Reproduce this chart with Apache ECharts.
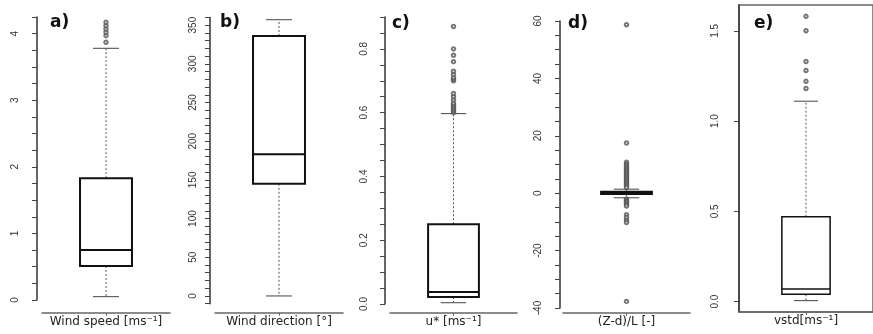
<!DOCTYPE html>
<html><head><meta charset="utf-8">
<script src="https://cdn.jsdelivr.net/npm/echarts@6/dist/echarts.min.js"></script>
<style>html,body{margin:0;padding:0;background:#fff}#c{width:873px;height:334px}</style>
</head><body><div id="c"></div><script>
// ---- data ----
const panelLetters = ['a)', 'b)', 'c)', 'd)', 'e)'];
const xLabels = ['Wind speed [ms⁻¹]', 'Wind direction [°]', 'u* [ms⁻¹]', '(Z-d)/L [-]', 'vstd[ms⁻¹]'];
// box stats: [lower whisker, Q1, median, Q3, upper whisker]
const windSpeedBox = [0.05, 0.51, 0.75, 1.83, 3.78];
const windSpeedOut = [3.87, 3.97, 4.02, 4.07, 4.12, 4.17];
const windDirBox = [0, 145, 183, 336, 357];
const windDirOut = [];
const ustarBox = [0.004, 0.022, 0.038, 0.25, 0.597];
const ustarOut = [0.600, 0.605, 0.610, 0.615, 0.620, 0.625, 0.630, 0.640, 0.650, 0.660, 0.700, 0.705, 0.710, 0.720, 0.730, 0.760, 0.780, 0.800, 0.870];
const zlBox = [-1.6, -0.3, 0.1, 0.5, 1.4];
const zlOut = [58.7, 17.5, 10.8, 10.2, 9.6, 9.0, 8.5, 8.0, 7.5, 7.0, 6.5, 6.0, 5.5, 5.0, 4.5, 4.0, 3.5, 3.0, 2.5, 2.0, -2.0, -2.5, -3.0, -3.5, -4.0, -4.5, -7.5, -8.5, -9.5, -10.2, -37.7];
const vstdBox = [0.005, 0.04, 0.07, 0.47, 1.11];
const vstdOut = [1.18, 1.22, 1.28, 1.33, 1.50, 1.58];
// tick labels
const ticksA = [0, 1, 2, 3, 4];
const ticksB = [0, 50, 100, 150, 200, 250, 300, 350];
const ticksC = [0.0, 0.2, 0.4, 0.6, 0.8];
const ticksD = [-40, -20, 0, 20, 40, 60];
const ticksE = [0.0, 0.5, 1.0, 1.5];
// minor tick marks
const minorA = [0, 0.25, 0.5, 0.75, 1, 1.25, 1.5, 1.75, 2, 2.25, 2.5, 2.75, 3, 3.25, 3.5, 3.75, 4, 4.25];
const minorB = [-10, 0, 10, 20, 30, 40, 50, 60, 70, 80, 90, 100, 110, 120, 130, 140, 150, 160, 170, 180, 190, 200, 210, 220, 230, 240, 250, 260, 270, 280, 290, 300, 310, 320, 330, 340, 350, 360];
const minorC = [0, 0.05, 0.1, 0.15, 0.2, 0.25, 0.3, 0.35, 0.4, 0.45, 0.5, 0.55, 0.6, 0.65, 0.7, 0.75, 0.8, 0.85, 0.9];
const minorD = [-40, -35, -30, -25, -20, -15, -10, -5, 0, 5, 10, 15, 20, 25, 30, 35, 40, 45, 50, 55, 60];
const minorE = [0.0, 0.5, 1.0, 1.5];

// ---- layout / style ----
const panels = [
  {box: windSpeedBox, out: windSpeedOut, labels: ticksA, ticks: minorA, fmt: v => String(v), min: 0, max: 4.25,
   grid: {left: 42, right: 703, top: 17, bottom: 34}, xOff: 13, yOff: 5, ratio: 0.406, lw: 2, lm: 17, letter: [50, 14]},
  {box: windDirBox, out: windDirOut, labels: ticksB, ticks: minorB, fmt: v => String(v), min: -10, max: 360,
   grid: {left: 215, right: 530, top: 17.4, bottom: 30.3}, xOff: 9, yOff: 5, ratio: 0.406, lw: 2, lm: 12, letter: [220, 14]},
  {box: ustarBox, out: ustarOut, labels: ticksC, ticks: minorC, fmt: v => v.toFixed(1), min: 0, max: 0.9,
   grid: {left: 390, right: 356, top: 17, bottom: 30}, xOff: 9, yOff: 5, ratio: 0.40, lw: 2, lm: 16, letter: [392, 15]},
  {box: zlBox, out: zlOut, labels: ticksD, ticks: minorD, fmt: v => String(v), min: -40, max: 60,
   grid: {left: 563, right: 183, top: 21, bottom: 26}, xOff: 5, yOff: 3, ratio: 0.40, lw: 2, lm: 17, letter: [568, 15]},
  {box: vstdBox, out: vstdOut, labels: ticksE, ticks: minorE, fmt: v => v.toFixed(1), min: -0.058, max: 1.643,
   grid: {left: 739, right: -4, top: 5, bottom: 22, show: true, borderColor: '#666', borderWidth: 1.5},
   xOff: 0, yOff: 0, ratio: 0.36, lw: 1.5, lm: 19, letter: [754, 15]}
];

function makeRender(ratio, lw) {
  return function (params, api) {
    const x = api.value(0);
    const lo = api.coord([x, api.value(1)]);
    const q1 = api.coord([x, api.value(2)]);
    const md = api.coord([x, api.value(3)]);
    const q3 = api.coord([x, api.value(4)]);
    const hi = api.coord([x, api.value(5)]);
    const bw = api.size([1, 0])[0] * ratio;
    const cx = md[0];
    const cw = bw / 2;
    const solid = {stroke: '#111', lineWidth: lw, fill: null};
    const dash = {stroke: '#555', lineWidth: 1, lineDash: [2, 2]};
    return {
      type: 'group',
      children: [
        {type: 'line', shape: {x1: cx, y1: q3[1], x2: cx, y2: hi[1]}, style: dash},
        {type: 'line', shape: {x1: cx, y1: q1[1], x2: cx, y2: lo[1]}, style: dash},
        {type: 'line', shape: {x1: cx - cw / 2, y1: hi[1], x2: cx + cw / 2, y2: hi[1]}, style: {stroke: '#444', lineWidth: 1}},
        {type: 'line', shape: {x1: cx - cw / 2, y1: lo[1], x2: cx + cw / 2, y2: lo[1]}, style: {stroke: '#444', lineWidth: 1}},
        {type: 'rect', shape: {x: cx - bw / 2, y: q3[1], width: bw, height: q1[1] - q3[1]}, style: solid},
        {type: 'line', shape: {x1: cx - bw / 2, y1: md[1], x2: cx + bw / 2, y2: md[1]}, style: {stroke: '#111', lineWidth: lw}}
      ]
    };
  };
}

const option = {
  animation: false,
  backgroundColor: '#fff',
  textStyle: {fontFamily: 'Liberation Sans'},
  grid: [], xAxis: [], yAxis: [], series: [],
  graphic: []
};

panels.forEach((p, i) => {
  option.grid.push(Object.assign({containLabel: false}, p.grid));
  option.xAxis.push({
    type: 'category', gridIndex: i, data: [xLabels[i]], offset: p.xOff, position: 'bottom',
    axisLine: {show: true, onZero: false, lineStyle: {color: '#666', width: 1.5}},
    axisTick: {show: true, alignWithLabel: true, length: 3, lineStyle: {color: '#666'}},
    axisLabel: {show: true, margin: 3, fontFamily: 'DejaVu Sans', fontSize: 12, color: '#222'},
    splitLine: {show: false}
  });
  option.yAxis.push({
    type: 'value', gridIndex: i, min: p.min, max: p.max, offset: p.yOff,
    axisLine: {show: true, onZero: false, lineStyle: {color: '#333', width: 1.5}},
    axisTick: {show: true, length: 5, customValues: p.ticks, lineStyle: {color: '#444'}},
    axisLabel: {show: true, rotate: 90, margin: p.lm, fontSize: 10, color: '#333',
      customValues: p.labels, formatter: p.fmt},
    splitLine: {show: false}
  });
  option.series.push({
    type: 'custom', xAxisIndex: i, yAxisIndex: i,
    renderItem: makeRender(p.ratio, p.lw),
    encode: {x: 0, y: [1, 2, 3, 4, 5]},
    data: [[0].concat(p.box)],
    z: 2
  });
  option.series.push({
    type: 'scatter', xAxisIndex: i, yAxisIndex: i,
    symbol: 'emptyCircle', symbolSize: 3.5,
    itemStyle: {color: '#555', borderColor: '#555', borderWidth: 0.9},
    data: p.out.map(v => [0, v]),
    z: 3
  });
  option.graphic.push({
    type: 'text', left: p.letter[0], top: p.letter[1],
    style: {text: panelLetters[i], fontFamily: 'DejaVu Sans', fontWeight: 'bold', fontSize: 17, fill: '#111'}
  });
});

const chart = echarts.init(document.getElementById('c'), null, {renderer: 'canvas'});
chart.setOption(option);
</script></body></html>
